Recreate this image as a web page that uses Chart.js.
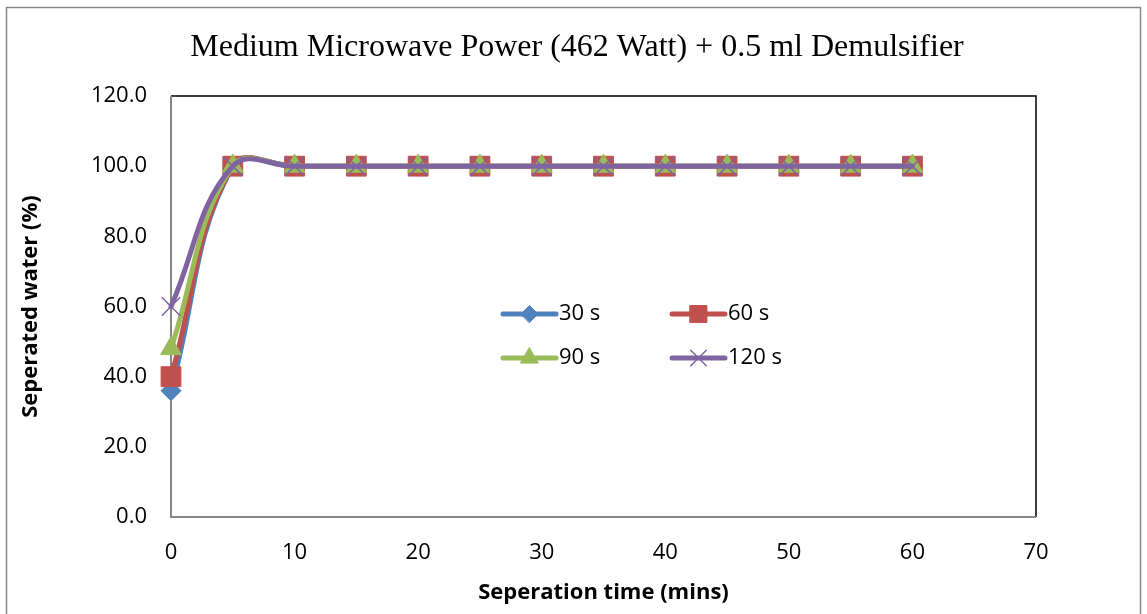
<!DOCTYPE html>
<html>
<head>
<meta charset="utf-8">
<script src="https://cdn.jsdelivr.net/npm/chart.js@4.4.0/dist/chart.umd.min.js"></script>
<style>
  html, body { margin: 0; padding: 0; background: #fff; }
  #wrap { width: 1147px; height: 614px; position: relative; }
</style>
</head>
<body>
<div id="wrap"><canvas id="c" width="1147" height="614"></canvas></div>
<script>
const chartTitle = 'Medium Microwave Power (462 Watt) + 0.5 ml Demulsifier';
const xAxisTitle = 'Seperation time (mins)';
const yAxisTitle = 'Seperated water (%)';
const seriesNames = ['30 s', '60 s', '90 s', '120 s'];
const times = [0, 5, 10, 15, 20, 25, 30, 35, 40, 45, 50, 55, 60];
const s30  = [36, 100, 100, 100, 100, 100, 100, 100, 100, 100, 100, 100, 100];
const s60  = [40, 100, 100, 100, 100, 100, 100, 100, 100, 100, 100, 100, 100];
const s90  = [48, 100, 100, 100, 100, 100, 100, 100, 100, 100, 100, 100, 100];
const s120 = [60, 100, 100, 100, 100, 100, 100, 100, 100, 100, 100, 100, 100];
const xTicks = [0, 10, 20, 30, 40, 50, 60, 70];
const yTicks = [0, 20, 40, 60, 80, 100, 120];

const colors = ['#4F81BD', '#C0504D', '#9BBB59', '#8064A2'];
const styles = [
  { pointStyle: 'rectRot', pointRadius: 10, pointBorderWidth: 1 },
  { pointStyle: 'rect', pointRadius: 14, pointBorderWidth: 1 },
  { pointStyle: 'triangle', pointRadius: 12, pointBorderWidth: 1 },
  { pointStyle: 'crossRot', pointRadius: 13, pointBorderWidth: 1.5 }
];
const allSeries = [s30, s60, s90, s120];

const datasets = allSeries.map((vals, i) => ({
  label: seriesNames[i],
  data: times.map((t, j) => ({ x: t, y: vals[j] })),
  borderColor: colors[i],
  backgroundColor: colors[i],
  pointBackgroundColor: colors[i],
  pointBorderColor: colors[i],
  borderWidth: 5,
  borderCapStyle: 'round',
  tension: 0.42,
  clip: false,
  order: 4 - i,
  pointStyle: styles[i].pointStyle,
  pointRadius: styles[i].pointRadius,
  pointHoverRadius: styles[i].pointRadius,
  pointBorderWidth: styles[i].pointBorderWidth
}));

const sansFamily = '"Open Sans", "Noto Sans", sans-serif';
const tickFont = { family: sansFamily, size: 22 };
const axisTitleFont = { family: sansFamily, size: 22, weight: 'bold' };

const framePlugin = {
  id: 'frame',
  beforeDraw(chart) {
    const ctx = chart.ctx;
    ctx.save();
    ctx.fillStyle = '#fff';
    ctx.fillRect(0, 0, chart.width, chart.height);
    ctx.strokeStyle = '#888888';
    ctx.lineWidth = 1.5;
    ctx.strokeRect(6.5, 7.5, 1134, 620);
    ctx.fillStyle = '#000';
    ctx.font = '32px "Liberation Serif", "Times New Roman", serif';
    ctx.textAlign = 'center';
    ctx.textBaseline = 'middle';
    ctx.fillText(chartTitle, 577, 48);
    ctx.restore();
  },
  beforeDatasetsDraw(chart) {
    const a = chart.chartArea;
    const ctx = chart.ctx;
    ctx.save();
    ctx.lineWidth = 1.5;
    ctx.strokeStyle = '#000';
    ctx.beginPath();
    ctx.moveTo(a.left, a.top);
    ctx.lineTo(a.right, a.top);
    ctx.lineTo(a.right, a.bottom);
    ctx.stroke();
    ctx.strokeStyle = '#868686';
    ctx.lineWidth = 2;
    ctx.beginPath();
    ctx.moveTo(a.left, a.top);
    ctx.lineTo(a.left, a.bottom);
    ctx.lineTo(a.right, a.bottom);
    ctx.stroke();
    ctx.restore();
  }
};

const legendPlugin = {
  id: 'inlegend',
  afterDatasetsDraw(chart) {
    const ctx = chart.ctx;
    const cols = [501, 670];
    const rows = [314, 358];
    chart.data.datasets.forEach((ds, i) => {
      const x0 = cols[i % 2];
      const y = rows[Math.floor(i / 2)];
      const len = 55;
      ctx.save();
      ctx.strokeStyle = ds.borderColor;
      ctx.lineWidth = 5;
      ctx.lineCap = 'round';
      ctx.beginPath();
      ctx.moveTo(x0 + 2, y);
      ctx.lineTo(x0 + len, y);
      ctx.stroke();
      ctx.fillStyle = ds.pointBackgroundColor;
      ctx.strokeStyle = ds.pointBorderColor;
      ctx.lineWidth = ds.pointBorderWidth;
      Chart.helpers.drawPoint(ctx, {
        pointStyle: ds.pointStyle,
        radius: ds.pointRadius * 0.85,
        borderWidth: ds.pointBorderWidth,
        rotation: 0
      }, x0 + len / 2 + 1, y);
      ctx.fillStyle = '#000';
      ctx.font = '22px ' + sansFamily;
      ctx.textBaseline = 'middle';
      ctx.textAlign = 'left';
      ctx.fillText(ds.label, x0 + len + 3, y);
      ctx.restore();
    });
  }
};

new Chart(document.getElementById('c'), {
  type: 'line',
  data: { datasets },
  options: {
    responsive: false,
    animation: false,
    devicePixelRatio: 1,
    layout: { padding: { left: 18, right: 111, top: 96, bottom: 8 } },
    plugins: {
      legend: { display: false },
      tooltip: { enabled: false },
      title: { display: false }
    },
    scales: {
      x: {
        type: 'linear',
        min: xTicks[0],
        max: xTicks[xTicks.length - 1],
        afterBuildTicks(scale) { scale.ticks = xTicks.map(v => ({ value: v })); },
        afterFit(scale) { scale.height = 89; },
        grid: { display: false, drawTicks: false },
        border: { display: false },
        ticks: { color: '#000', font: tickFont, padding: 23, maxRotation: 0 },
        title: { display: true, text: xAxisTitle, color: '#000', font: axisTitleFont, padding: 0 }
      },
      y: {
        type: 'linear',
        min: yTicks[0],
        max: yTicks[yTicks.length - 1],
        afterBuildTicks(scale) { scale.ticks = yTicks.map(v => ({ value: v })); },
        afterFit(scale) { scale.width = 153; },
        grid: { display: false, drawTicks: false },
        border: { display: false },
        ticks: { color: '#000', font: tickFont, padding: 24, callback: v => Number(v).toFixed(1) },
        title: { display: true, text: yAxisTitle, color: '#000', font: axisTitleFont, padding: 0 }
      }
    }
  },
  plugins: [framePlugin, legendPlugin]
});
</script>
</body>
</html>
